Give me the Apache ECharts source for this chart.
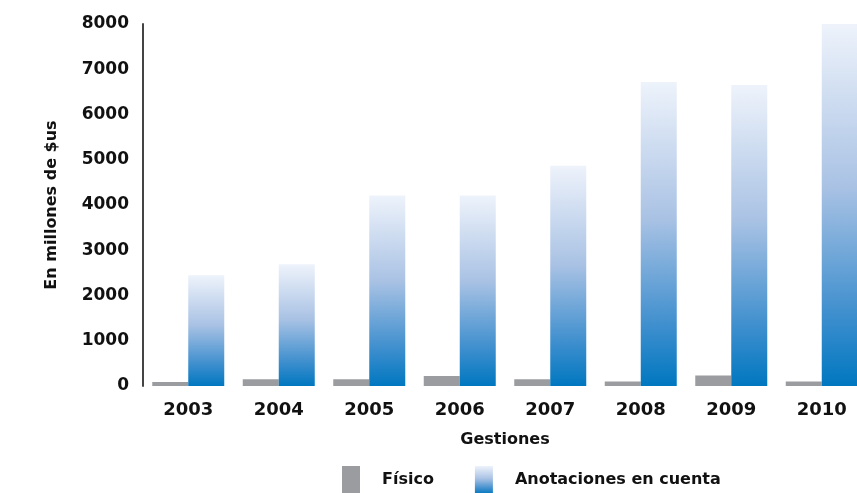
<!DOCTYPE html>
<html>
<head>
<meta charset="utf-8">
<script src="https://cdn.jsdelivr.net/npm/echarts@6/dist/echarts.min.js"></script>
<style>
  html, body { margin: 0; padding: 0; background: #fff; }
  #chart { width: 857px; height: 493px; }
</style>
</head>
<body>
<div id="chart"></div>
<script>
// gestiones (years)
const years = ['2003', '2004', '2005', '2006', '2007', '2008', '2009', '2010']
// en millones de $us
const fisico = [90, 150, 150, 220, 150, 100, 230, 100]
const anotaciones = [2450, 2690, 4210, 4210, 4870, 6720, 6650, 8000]
const yTicks = { min: 0, max: 8000, interval: 1000 }

const chart = echarts.init(document.getElementById('chart'))

const blueFill = new echarts.graphic.LinearGradient(0, 0, 0, 1, [
  { offset: 0, color: '#eef3fb' },
  { offset: 0.45, color: '#a9c2e4' },
  { offset: 0.8, color: '#3f8fce' },
  { offset: 1, color: '#0077c0' }
])

const font = 'DejaVu Sans'

chart.setOption({
  animation: false,
  grid: {
    left: 143,
    top: 24,
    width: 724,
    height: 362,
    outerBoundsMode: 'none'
  },
  legend: {
    left: 342,
    top: 466,
    padding: 0,
    itemWidth: 18,
    itemHeight: 28,
    itemGap: 41,
    icon: 'rect',
    textStyle: {
      fontFamily: font,
      fontWeight: 'bold',
      fontSize: 16,
      color: '#111',
      padding: [0, 0, 0, 17]
    },
    data: ['Físico', 'Anotaciones en cuenta']
  },
  xAxis: {
    type: 'category',
    data: years,
    name: 'Gestiones',
    nameLocation: 'middle',
    nameGap: 46,
    nameTextStyle: { fontFamily: font, fontWeight: 'bold', fontSize: 16, color: '#111' },
    axisLine: { show: false },
    axisTick: { show: false },
    axisLabel: { margin: 15, fontFamily: font, fontWeight: 'bold', fontSize: 18, color: '#111' }
  },
  yAxis: {
    type: 'value',
    min: yTicks.min,
    max: yTicks.max,
    interval: yTicks.interval,
    name: 'En millones de $us',
    nameLocation: 'middle',
    nameGap: 83,
    nameTextStyle: { fontFamily: font, fontWeight: 'bold', fontSize: 16, color: '#111' },
    axisLine: { show: true, lineStyle: { color: '#444', width: 2 } },
    axisTick: { show: false },
    splitLine: { show: false },
    axisLabel: {
      margin: 14,
      fontFamily: font,
      fontWeight: 'bold',
      fontSize: 17,
      color: '#111',
      formatter: v => String(v)
    }
  },
  series: [
    {
      name: 'Físico',
      type: 'bar',
      data: fisico,
      barWidth: 36,
      barGap: '0%',
      itemStyle: { color: '#9b9ca0' }
    },
    {
      name: 'Anotaciones en cuenta',
      type: 'bar',
      data: anotaciones,
      barWidth: 36,
      barGap: '0%',
      itemStyle: { color: blueFill }
    }
  ]
})
</script>
</body>
</html>
